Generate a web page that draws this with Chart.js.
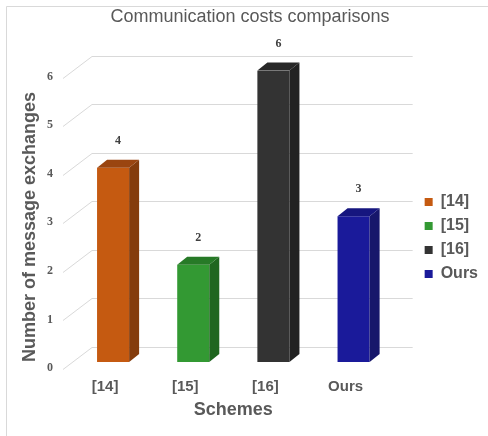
<!DOCTYPE html>
<html>
<head>
<meta charset="utf-8">
<script src="https://cdn.jsdelivr.net/npm/chart.js@4"></script>
<style>
  html, body { margin: 0; padding: 0; background: #fff; }
</style>
</head>
<body>
<canvas id="grafico" width="488" height="436"></canvas>
<script>
// data
const categories = ["[14]", "[15]", "[16]", "Ours"];
const exchanges = [4, 2, 6, 3];

// colours of the three visible faces of each bar
const frontColors = ["#c55a11", "#339933", "#333333", "#1a1a9a"];
const topColors = ["#9a4510", "#277a27", "#282828", "#16167f"];
const sideColors = ["#843c0c", "#1f661f", "#222222", "#17176b"];

const TEXT = "#595959";
const GRID = "#d9d9d9";
const DX = 10, DY = 8; // bar depth

// fake 3D: back wall grid, bar sides/tops, value labels
const depth3d = {
  id: "depth3d",
  beforeDraw(chart) {
    const ctx = chart.ctx;
    ctx.save();
    ctx.fillStyle = "#fff";
    ctx.fillRect(0, 0, chart.width, chart.height);
    ctx.strokeStyle = GRID;
    ctx.lineWidth = 1;
    ctx.beginPath();
    ctx.moveTo(6.5, chart.height);
    ctx.lineTo(6.5, 6.5);
    ctx.lineTo(chart.width, 6.5);
    ctx.stroke();
    ctx.restore();
  },
  beforeDatasetsDraw(chart) {
    const { ctx, chartArea, scales } = chart;
    const y = scales.y;
    ctx.save();
    ctx.strokeStyle = GRID;
    ctx.lineWidth = 1;
    y.ticks.forEach((t) => {
      const py = Math.round(y.getPixelForValue(t.value)) + 0.5;
      ctx.beginPath();
      ctx.moveTo(chartArea.left - 10, py + 7);
      ctx.lineTo(chartArea.left + 19, py - 15);
      ctx.lineTo(chartArea.right + 19, py - 15);
      ctx.stroke();
    });
    ctx.restore();
  },
  afterDatasetsDraw(chart) {
    const ctx = chart.ctx;
    const values = chart.data.datasets[0].data;
    ctx.save();
    chart.getDatasetMeta(0).data.forEach((bar, i) => {
      const { x, y, base, width } = bar.getProps(["x", "y", "base", "width"], true);
      const l = x - width / 2;
      const r = x + width / 2;

      ctx.fillStyle = sideColors[i];
      ctx.beginPath();
      ctx.moveTo(r, y);
      ctx.lineTo(r + DX, y - DY);
      ctx.lineTo(r + DX, base - DY);
      ctx.lineTo(r, base);
      ctx.closePath();
      ctx.fill();

      ctx.fillStyle = topColors[i];
      ctx.beginPath();
      ctx.moveTo(l, y);
      ctx.lineTo(l + DX, y - DY);
      ctx.lineTo(r + DX, y - DY);
      ctx.lineTo(r, y);
      ctx.closePath();
      ctx.fill();

      ctx.fillStyle = "#404040";
      ctx.font = "bold 12px 'Liberation Serif'";
      ctx.textAlign = "center";
      ctx.textBaseline = "middle";
      ctx.fillText(String(values[i]), x + DX / 2, y - 27);
    });
    ctx.restore();
  },
};

const data = {
  labels: categories,
  datasets: [
    {
      label: "Number of message exchanges",
      data: exchanges,
      backgroundColor: frontColors,
      borderWidth: 0,
      categoryPercentage: 0.8,
      barPercentage: 0.5,
      yAxisID: "y",
    },
  ],
};

const config = {
  type: "bar",
  data: data,
  plugins: [depth3d],
  options: {
    responsive: false,
    animation: false,
    layout: { padding: { left: 12, right: 0, top: 0, bottom: 0 } },
    plugins: {
      title: {
        display: true,
        text: "Communication costs comparisons",
        color: TEXT,
        font: { family: "Liberation Sans", size: 18, weight: "normal" },
        padding: { top: 6, bottom: 43 },
      },
      legend: {
        position: "right",
        // empty title only pushes the items down a little
        title: { display: true, text: "", font: { size: 10 }, padding: { top: 0, bottom: 28 } },
        labels: {
          boxWidth: 8,
          boxHeight: 8,
          padding: 8,
          color: TEXT,
          font: { family: "Liberation Sans", size: 16, weight: "bold" },
          generateLabels: (chart) =>
            chart.data.labels.map((lab, i) => ({
              text: lab,
              fillStyle: frontColors[i],
              strokeStyle: frontColors[i],
              lineWidth: 0,
              fontColor: TEXT,
              hidden: false,
              index: i,
            })),
        },
      },
      tooltip: { enabled: false },
    },
    scales: {
      x: {
        grid: { display: false, drawTicks: false },
        border: { display: false },
        ticks: {
          color: TEXT,
          padding: 16,
          labelOffset: -8,
          font: { family: "Liberation Sans", size: 15, weight: "bold" },
        },
        title: {
          display: true,
          text: "Schemes",
          color: TEXT,
          font: { family: "Liberation Sans", size: 18, weight: "bold" },
          padding: { top: 3, bottom: 15 },
        },
        afterFit: (scale) => {
          scale.height = 74;
        },
      },
      y: {
        min: 0,
        max: 6,
        grid: { display: false, drawTicks: false },
        border: { display: false },
        ticks: {
          stepSize: 1,
          padding: 20,
          labelOffset: 6,
          color: TEXT,
          font: { family: "Liberation Serif", size: 12, weight: "bold" },
        },
        title: {
          display: true,
          text: "Number of message exchanges",
          align: "start",
          color: TEXT,
          font: { family: "Liberation Sans", size: 18, weight: "bold" },
          padding: { top: 7, bottom: 6 },
        },
        afterFit: (scale) => {
          scale.width = 61;
        },
      },
      yr: {
        position: "right",
        grid: { display: false, drawTicks: false },
        border: { display: false },
        ticks: { display: false },
        afterFit: (scale) => {
          scale.width = 23;
        },
      },
    },
  },
};

const grafico = new Chart(document.getElementById("grafico"), config);
</script>
</body>
</html>
